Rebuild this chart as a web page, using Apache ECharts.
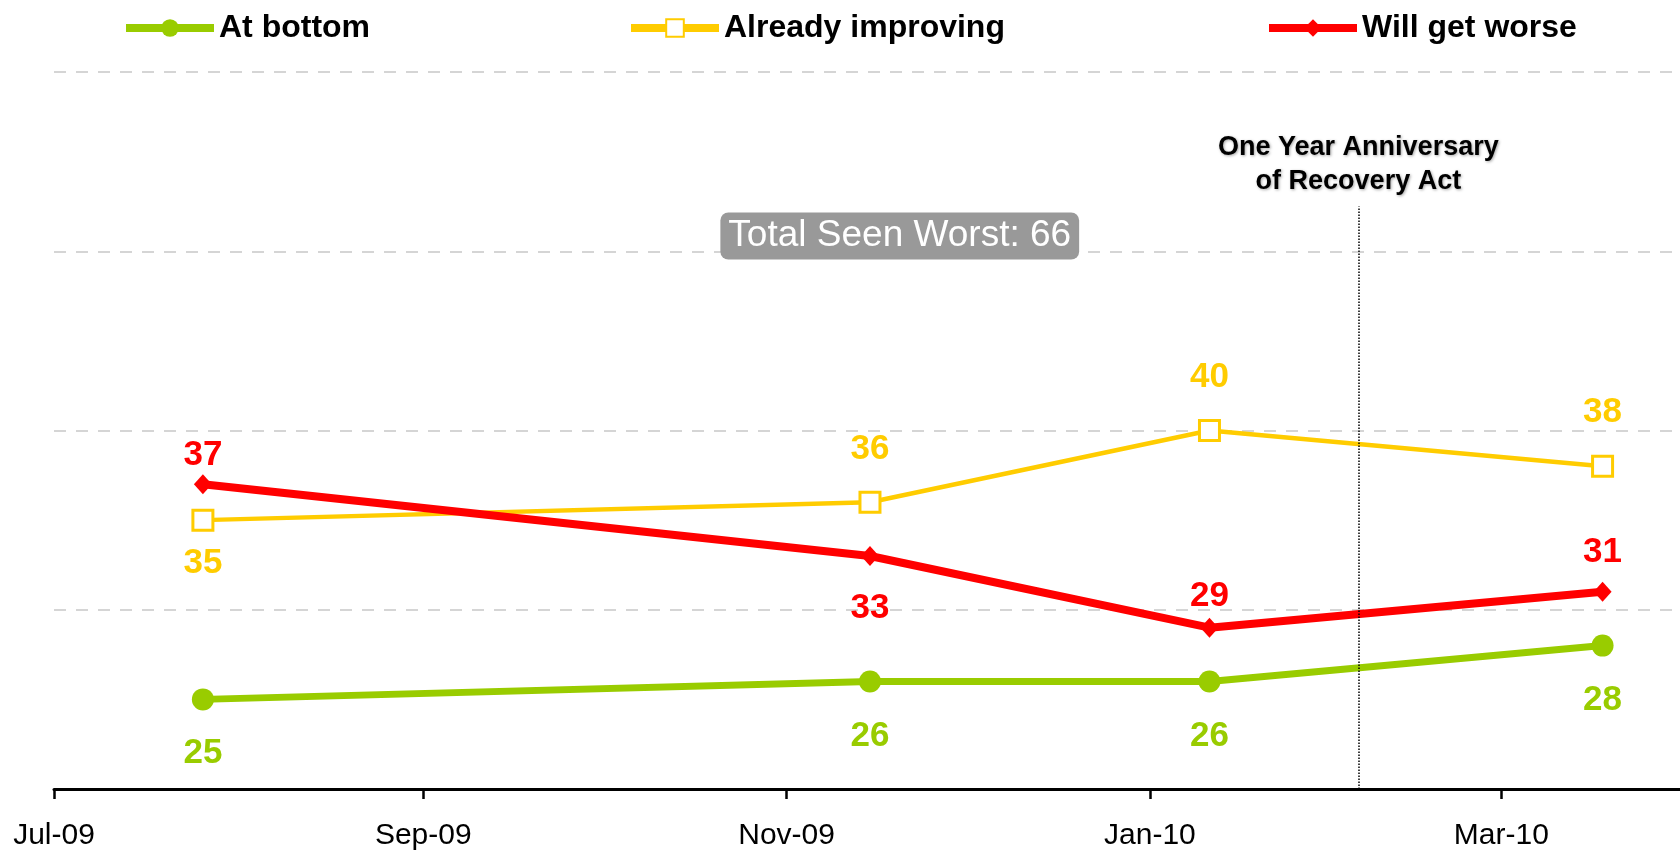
<!DOCTYPE html>
<html>
<head>
<meta charset="utf-8">
<title>Economy outlook</title>
<script src="https://cdn.jsdelivr.net/npm/echarts@6/dist/echarts.min.js"></script>
<style>
  html, body { margin: 0; padding: 0; background: #fff; }
  #c1 { width: 1680px; height: 856px; }
</style>
</head>
<body>
<div id="c1"></div>
<script>
// survey dates and the three answers (percent)
var surveyDates = ["2009-07-26", "2009-11-15", "2010-01-11", "2010-03-18"];
var atBottom = [25, 26, 26, 28];
var alreadyImproving = [35, 36, 40, 38];
var willGetWorse = [37, 33, 29, 31];

// x axis ticks
var tickDates = ["2009-07-01", "2009-09-01", "2009-11-01", "2010-01-01", "2010-03-01"];
var tickLabels = ["Jul-09", "Sep-09", "Nov-09", "Jan-10", "Mar-10"];

// annotations
var anniversaryDate = "2010-02-05";
var anniversaryText = "One Year Anniversary\nof Recovery Act";
var totalSeenWorst = 66;

// where each value label sits: [side, gap]
var bottomLabelPos = [["bottom", 25], ["bottom", 26], ["bottom", 26], ["bottom", 26]];
var improvingLabelPos = [["bottom", 14], ["top", 24], ["top", 24], ["top", 25]];
var worseLabelPos = [["top", 1], ["bottom", 25], ["top", 4], ["top", 12]];

var FONT = "'Liberation Sans', Arial, sans-serif";
var NARROW = "'Liberation Sans Narrow', 'Arial Narrow', 'Liberation Sans', Arial, sans-serif";

function toTime(s) {
  var p = s.split("-");
  return Date.UTC(+p[0], +p[1] - 1, +p[2]);
}
var tickTimes = tickDates.map(toTime);

function buildData(values, pos) {
  return values.map(function (v, i) {
    return {
      value: [toTime(surveyDates[i]), v],
      label: { position: pos[i][0], distance: pos[i][1] }
    };
  });
}

function makeSeries(name, color, values, pos, extra) {
  return {
    name: name,
    type: "line",
    data: buildData(values, pos),
    color: color,
    lineStyle: { color: color, width: extra.lineWidth },
    symbol: extra.symbol,
    symbolSize: extra.symbolSize,
    itemStyle: extra.itemStyle,
    showSymbol: true,
    label: {
      show: true,
      color: color,
      fontFamily: FONT,
      fontWeight: "bold",
      fontSize: 35,
      formatter: function (p) { return p.value[1]; }
    },
    emphasis: { disabled: true }
  };
}

var chartDom = document.getElementById("c1");
var myChart = echarts.init(chartDom);

var green = makeSeries("At bottom", "#99CC00", atBottom, bottomLabelPos, {
  lineWidth: 7, symbol: "circle", symbolSize: 22,
  itemStyle: { color: "#99CC00" }
});
var yellow = makeSeries("Already improving", "#FFCC00", alreadyImproving, improvingLabelPos, {
  lineWidth: 4.5, symbol: "rect", symbolSize: 20,
  itemStyle: { color: "#FFFFFF", borderColor: "#FFCC00", borderWidth: 3 }
});
var red = makeSeries("Will get worse", "#FF0000", willGetWorse, worseLabelPos, {
  lineWidth: 8, symbol: "diamond", symbolSize: [18, 20],
  itemStyle: { color: "#FF0000" }
});

red.markPoint = {
  silent: true,
  symbol: "rect",
  symbolSize: 1,
  itemStyle: { color: "transparent" },
  label: {
    show: true,
    position: "inside",
    formatter: "Total Seen Worst: " + totalSeenWorst,
    color: "#FFFFFF",
    fontFamily: FONT,
    fontSize: 37,
    backgroundColor: "#999999",
    borderRadius: 8,
    padding: [5, 8]
  },
  data: [{ coord: [toTime("2009-11-20"), 50.85] }]
};

red.markLine = {
  silent: true,
  symbol: "none",
  lineStyle: { color: "#000000", type: "dotted", width: 1.5 },
  label: {
    show: true,
    position: "end",
    distance: 8,
    formatter: anniversaryText,
    color: "#000000",
    fontFamily: FONT,
    fontWeight: "bold",
    fontSize: 27,
    lineHeight: 34,
    align: "center",
    textShadowColor: "rgba(0,0,0,0.35)",
    textShadowBlur: 3,
    textShadowOffsetX: 1,
    textShadowOffsetY: 1
  },
  data: [[
    { coord: [toTime(anniversaryDate), 20] },
    { coord: [toTime(anniversaryDate), 52.5] }
  ]]
};

function legendAt(name, left) {
  return {
    data: [name],
    left: left,
    top: 12,
    padding: 0,
    itemWidth: 88,
    itemHeight: 22,
    itemGap: 6,
    selectedMode: false,
    lineStyle: { width: 8 },
    textStyle: { color: "#000", fontFamily: FONT, fontWeight: "bold", fontSize: 32 }
  };
}

var option = {
  animation: false,
  backgroundColor: "#FFFFFF",
  legend: [
    legendAt("At bottom", 122),
    legendAt("Already improving", 627),
    legendAt("Will get worse", 1265)
  ],
  grid: { left: 54, right: 0, top: 72, bottom: 67, containLabel: false, outerBoundsMode: "none" },
  xAxis: {
    type: "value",
    min: toTime("2009-07-01"),
    max: toTime("2010-03-31"),
    axisLine: { lineStyle: { color: "#000", width: 3 } },
    axisTick: { show: true, length: 10, lineStyle: { color: "#000", width: 2.5 }, customValues: tickTimes },
    axisLabel: {
      customValues: tickTimes,
      margin: 32,
      color: "#000",
      fontFamily: NARROW,
      fontSize: 30,
      hideOverlap: false,
      formatter: function (v, idx) {
        var i = tickTimes.indexOf(v);
        if (i < 0) i = idx;
        return tickLabels[i] || "";
      }
    },
    splitLine: { show: false }
  },
  yAxis: {
    type: "value",
    min: 20,
    max: 60,
    interval: 10,
    axisLine: { show: false },
    axisTick: { show: false },
    axisLabel: { show: false },
    splitLine: { lineStyle: { color: "#C8C8C8", type: [12, 10], width: 1.5 } }
  },
  series: [green, yellow, red]
};

myChart.setOption(option);
window.addEventListener("resize", function () {
  myChart.resize();
});
</script>
</body>
</html>
